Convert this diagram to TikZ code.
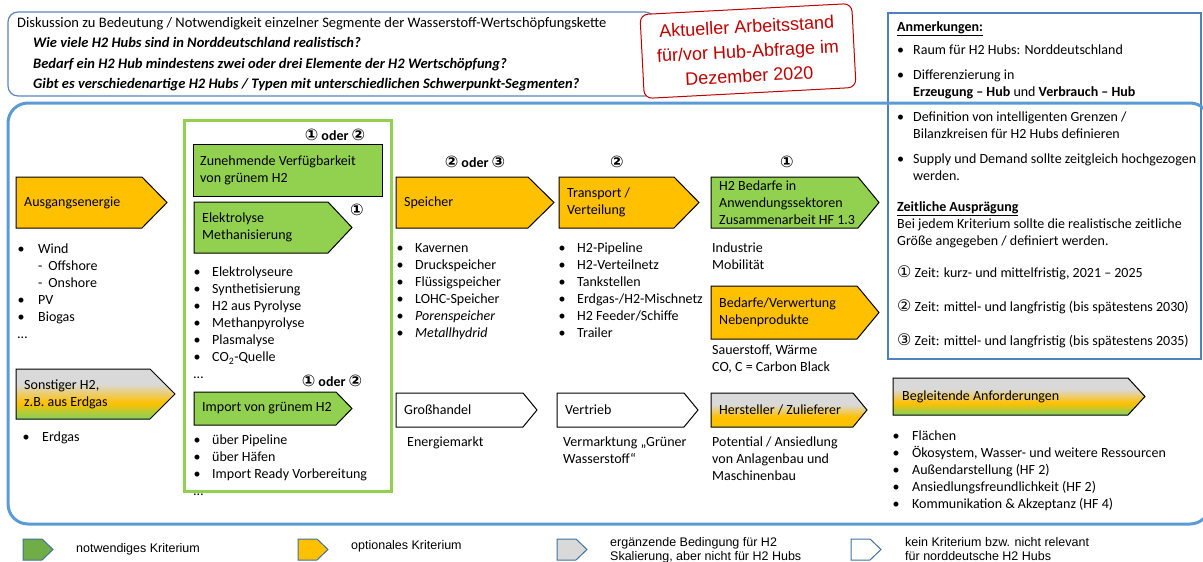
\documentclass[tikz,border=0pt]{standalone}
\usepackage{fontspec}
\setmainfont{Carlito}
\newfontfamily\arialf{Liberation Sans}
\newfontfamily\symf{DejaVu Sans}
\definecolor{hubGreen}{HTML}{92D050}
\definecolor{hubOrange}{HTML}{FFC000}
\definecolor{hubGray}{HTML}{D9D9D9}
\definecolor{legGreen}{HTML}{70AD47}
\definecolor{legBorder}{HTML}{41719C}
\definecolor{mainBlue}{HTML}{5B9BD5}
\definecolor{noteBlue}{HTML}{4F81BD}
\definecolor{topBlue}{HTML}{5E86BD}
\definecolor{stampRed}{HTML}{C00000}
\colorlet{hubOrGr}{hubOrange!75!hubGreen}
\pgfdeclareverticalshading{grayYelGreen}{100bp}{color(0bp)=(hubGreen); color(25bp)=(hubGreen); color(27.5bp)=(hubGreen); color(41bp)=(hubOrange); color(60bp)=(hubGray); color(75bp)=(hubGray); color(100bp)=(hubGray)}
\pgfdeclareverticalshading{grayYel}{100bp}{color(0bp)=(hubOrGr); color(25bp)=(hubOrGr); color(30bp)=(hubOrange); color(40bp)=(hubOrange); color(58bp)=(hubGray); color(75bp)=(hubGray); color(100bp)=(hubGray)}
\newcommand\mainsize{\fontsize{14}{17}\selectfont}
\newcommand\itm[1][18.5pt]{\makebox[#1][l]{\textbullet}}
\newcommand\cnum[1]{{\symf\fontsize{16}{17}\selectfont#1}}

\begin{document}
\begin{tikzpicture}[x=1pt, y=-1pt,
  chev/.style={draw=black, line width=1pt},
  legchev/.style={draw=legBorder, line width=1pt},
  lbl/.style={inner sep=0pt, anchor=west, align=left, font=\mainsize},
  txt/.style={inner sep=0pt, anchor=north west, align=left, font=\mainsize},
  head/.style={inner sep=0pt, font=\mainsize\bfseries},
  legtxt/.style={inner sep=0pt, anchor=west, align=left, font=\arialf\fontsize{12.5}{14}\selectfont}]
  \useasboundingbox (0,0) rectangle (1203,562);

  % question box and stamp
  \draw[topBlue, line width=1.2pt, rounded corners=10pt] (8,12) rectangle (655,96);
  \node[txt, font=\fontsize{14.5}{20.5}\selectfont] (fragen) at (17,17)
    {Diskussion zu Bedeutung / Notwendigkeit einzelner Segmente der Wasserstoff-Wertschöpfungskette\\
     \hspace*{16pt}\textbf{\textit{Wie viele H2 Hubs sind in Norddeutschland realistisch?}}\\
     \hspace*{16pt}\textbf{\textit{Bedarf ein H2 Hub mindestens zwei oder drei Elemente der H2 Wertschöpfung?}}\\
     \hspace*{16pt}\textbf{\textit{Gibt es verschiedenartige H2 Hubs / Typen mit unterschiedlichen Schwerpunkt-Segmenten?}}};
  \node[draw=stampRed, line width=1pt, fill=white, rounded corners=8pt, rotate=3,
        minimum width=212pt, minimum height=84pt, inner sep=0pt, align=center,
        text=stampRed, font=\arialf\fontsize{18}{24.5}\selectfont] (stand) at (748,51)
    {Aktueller Arbeitsstand\\für/vor Hub-Abfrage im\\Dezember 2020};

  % notes
  \draw[noteBlue, line width=1.5pt, fill=white] (888,13) rectangle (1201,359);
  \node[txt] (anmerk) at (897,21)
    {\underline{\textbf{Anmerkungen:}}\\[6pt]
     \itm[16pt]Raum für H2 Hubs: Norddeutschland\\[8pt]
     \itm[16pt]Differenzierung in\\
     \hspace*{16pt}\textbf{Erzeugung – Hub} und \textbf{Verbrauch – Hub}\\[8pt]
     \itm[16pt]Definition von intelligenten Grenzen /\\
     \hspace*{16pt}Bilanzkreisen für H2 Hubs definieren\\[8pt]
     \itm[16pt]Supply und Demand sollte zeitgleich hochgezogen\\
     \hspace*{16pt}werden.};
  \node[txt] (zeitlich) at (897,201)
    {\underline{\textbf{Zeitliche Ausprägung}}\\
     Bei jedem Kriterium sollte die realistische zeitliche\\
     Größe angegeben / definiert werden.\\[15pt]
     \cnum{①} Zeit: kurz- und mittelfristig, 2021 – 2025\\[17pt]
     \cnum{②} Zeit: mittel- und langfristig (bis spätestens 2030)\\[17pt]
     \cnum{③} Zeit: mittel- und langfristig (bis spätestens 2035)};

  % frames
  \draw[mainBlue, line width=3pt, rounded corners=20pt] (8,103) rectangle (1210,524);
  \draw[hubGreen, line width=3pt] (184,120) rectangle (391,491);

  % segments
  \path[chev, fill=hubOrange] (16,177) -- (142,177) -- (167,202.5) -- (142,228) -- (16,228) -- cycle;
  \node[lbl] (ausgang) at (24,202.5) {Ausgangsenergie};
  \path[chev, shading=grayYelGreen] (16,369) -- (150,369) -- (175,394) -- (150,419) -- (16,419) -- cycle;
  \node[lbl] (sonstig) at (24,394) {Sonstiger H2,\\z.B. aus Erdgas};
  \path[chev, fill=hubGreen] (193,144) rectangle (382,196);
  \node[lbl] (verfuegbar) at (200,170.5) {Zunehmende Verfügbarkeit\\von grünem H2};
  \path[chev, fill=hubGreen] (194,202) -- (328,202) -- (352,227.5) -- (328,253) -- (194,253) -- cycle;
  \node[lbl] (elektrolyse) at (202,227.5) {Elektrolyse\\Methanisierung};
  \path[chev, fill=hubGreen] (194,392) -- (336,392) -- (352,408.5) -- (336,425) -- (194,425) -- cycle;
  \node[lbl] (import) at (202,408.5) {Import von grünem H2};
  \path[chev, fill=hubOrange] (396,177) -- (528,177) -- (554,202.5) -- (528,228) -- (396,228) -- cycle;
  \node[lbl] (speicher) at (404,202.5) {Speicher};
  \path[chev, fill=hubOrange] (559,177) -- (674,177) -- (699,202.5) -- (674,228) -- (559,228) -- cycle;
  \node[lbl] (transport) at (567,202.5) {Transport /\\Verteilung};
  \path[chev, fill=hubGreen] (711,177) -- (858,177) -- (879,202.5) -- (858,228) -- (711,228) -- cycle;
  \node[lbl] (bedarf) at (719,202.5) {H2 Bedarfe in\\Anwendungssektoren\\Zusammenarbeit HF 1.3};
  \path[chev, fill=hubOrange] (711,286) -- (857,286) -- (879,312.5) -- (857,339) -- (711,339) -- cycle;
  \node[lbl] (verwertung) at (719,312.5) {Bedarfe/Verwertung\\Nebenprodukte};
  \path[chev, fill=white] (396,393) -- (523,393) -- (537,410) -- (523,427) -- (396,427) -- cycle;
  \node[lbl] (handel) at (404,410) {Großhandel};
  \path[chev, fill=white] (557,393) -- (684,393) -- (698,410) -- (684,427) -- (557,427) -- cycle;
  \node[lbl] (vertrieb) at (565,410) {Vertrieb};
  \path[chev, shading=grayYel] (711,393) -- (853,393) -- (867,410) -- (853,427) -- (711,427) -- cycle;
  \node[lbl] (hersteller) at (719,410) {Hersteller / Zulieferer};
  \path[chev, shading=grayYelGreen] (893,378) -- (1128,378) -- (1145,396.5) -- (1128,415) -- (893,415) -- cycle;
  \node[lbl] (begleitend) at (902,396.5) {Begleitende Anforderungen};

  % time marks
  \node[head] (zeitHub) at (335,135) {\cnum{①} oder \cnum{②}};
  \node[head] (zeitElek) at (357,210) {\cnum{①}};
  \node[head] (zeitImport) at (332,381) {\cnum{①} oder \cnum{②}};
  \node[head] (zeitSpeicher) at (475,162) {\cnum{②} oder \cnum{③}};
  \node[head] (zeitTransport) at (617,162) {\cnum{②}};
  \node[head] (zeitBedarf) at (787,162) {\cnum{①}};

  % lists
  \node[txt] (quellen) at (17.5,244)
    {\itm[20.5pt]Wind\\ \hspace*{20.5pt}-\hspace*{6pt}Offshore\\ \hspace*{20.5pt}-\hspace*{6pt}Onshore\\
     \itm[20.5pt]PV\\ \itm[20.5pt]Biogas\\ …};
  \node[txt] (erdgas) at (22.5,432) {\itm[19.5pt]Erdgas};
  \node[txt] (verfahren) at (193.5,267)
    {\itm Elektrolyseure\\ \itm Synthetisierung\\ \itm H2 aus Pyrolyse\\ \itm Methanpyrolyse\\
     \itm Plasmalyse\\ \itm CO\textsubscript{2}-Quelle\\ …};
  \node[txt] (importwege) at (193.5,435)
    {\itm über Pipeline\\ \itm über Häfen\\ \itm Import Ready Vorbereitung\\ …};
  \node[txt] (speicherarten) at (396.5,243)
    {\itm Kavernen\\ \itm Druckspeicher\\ \itm Flüssigspeicher\\ \itm LOHC-Speicher\\
     \itm\textit{Porenspeicher}\\ \itm\textit{Metallhydrid}};
  \node[txt] (netze) at (558.5,243)
    {\itm H2-Pipeline\\ \itm H2-Verteilnetz\\ \itm Tankstellen\\ \itm Erdgas-/H2-Mischnetz\\
     \itm H2 Feeder/Schiffe\\ \itm Trailer};
  \node[txt] (sektoren) at (712,243) {Industrie\\Mobilität};
  \node[txt] (nebenprod) at (712,345) {Sauerstoff, Wärme\\CO, C = Carbon Black};
  \node[txt] (markt) at (407,437) {Energiemarkt};
  \node[txt] (vermarktung) at (563,437) {Vermarktung „Grüner\\Wasserstoff“};
  \node[txt] (ansiedlung) at (712,437) {Potential / Ansiedlung\\von Anlagenbau und\\Maschinenbau};
  \node[txt] (anforderung) at (892.5,431)
    {\itm[19.5pt]Flächen\\ \itm[19.5pt]Ökosystem, Wasser- und weitere Ressourcen\\
     \itm[19.5pt]Außendarstellung (HF 2)\\ \itm[19.5pt]Ansiedlungsfreundlichkeit (HF 2)\\
     \itm[19.5pt]Kommunikation \& Akzeptanz (HF 4)};

  % legend
  \foreach \x/\c in {23/legGreen, 298/hubOrange, 557/hubGray, 851/white}
    \path[legchev, fill=\c] (\x,539) -- ++(19,0) -- ++(11,10.5) -- ++(-11,10.5) -- ++(-19,0) -- cycle;
  \node[legtxt] (legNotw) at (76,549) {notwendiges Kriterium};
  \node[legtxt] (legOpt) at (351,546) {optionales Kriterium};
  \node[legtxt] (legErg) at (610,550) {ergänzende Bedingung für H2\\Skalierung, aber nicht für H2 Hubs};
  \node[legtxt] (legKein) at (905,549.5) {kein Kriterium bzw. nicht relevant\\für norddeutsche H2 Hubs};
\end{tikzpicture}
\end{document}
